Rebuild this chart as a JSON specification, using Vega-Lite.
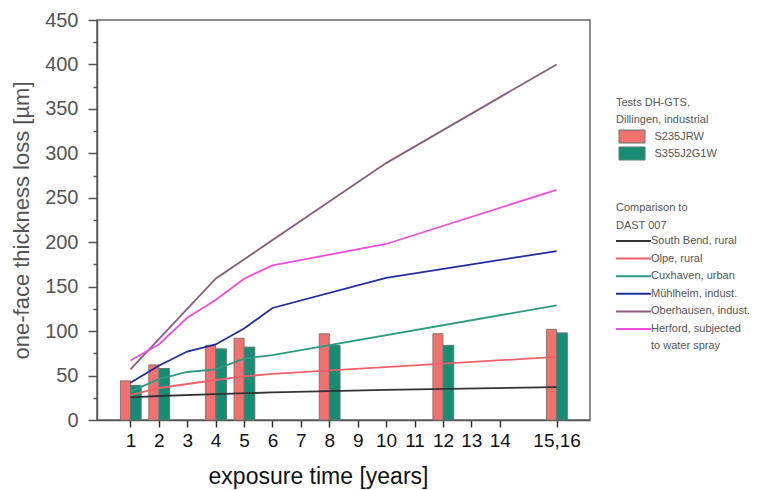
{
  "$schema": "https://vega.github.io/schema/vega-lite/v6.json",
  "width": 493,
  "height": 400,
  "autosize": {"type": "none"},
  "padding": {"left": 97, "top": 20, "right": 171, "bottom": 70},
  "background": "white",
  "config": {
    "font": "Liberation Sans",
    "view": {"stroke": "#666", "strokeWidth": 1.5}
  },
  "datasets": {
    "bars": [
      {"year": 1, "steel": "S235JRW", "loss": 44},
      {"year": 2, "steel": "S235JRW", "loss": 62},
      {"year": 4, "steel": "S235JRW", "loss": 84},
      {"year": 5, "steel": "S235JRW", "loss": 92},
      {"year": 8, "steel": "S235JRW", "loss": 97},
      {"year": 12, "steel": "S235JRW", "loss": 97},
      {"year": 16, "steel": "S235JRW", "loss": 102},
      {"year": 1, "steel": "S355J2G1W", "loss": 39},
      {"year": 2, "steel": "S355J2G1W", "loss": 58},
      {"year": 4, "steel": "S355J2G1W", "loss": 80},
      {"year": 5, "steel": "S355J2G1W", "loss": 82},
      {"year": 8, "steel": "S355J2G1W", "loss": 84},
      {"year": 12, "steel": "S355J2G1W", "loss": 84},
      {"year": 16, "steel": "S355J2G1W", "loss": 98}
    ],
    "lines": [
      {"year": 1, "site": "South Bend, rural", "loss": 25.5},
      {"year": 2, "site": "South Bend, rural", "loss": 27},
      {"year": 4, "site": "South Bend, rural", "loss": 29},
      {"year": 6, "site": "South Bend, rural", "loss": 31},
      {"year": 10, "site": "South Bend, rural", "loss": 34},
      {"year": 16, "site": "South Bend, rural", "loss": 37},
      {"year": 1, "site": "Olpe, rural", "loss": 28},
      {"year": 2, "site": "Olpe, rural", "loss": 36},
      {"year": 4, "site": "Olpe, rural", "loss": 45},
      {"year": 5, "site": "Olpe, rural", "loss": 49},
      {"year": 6, "site": "Olpe, rural", "loss": 52},
      {"year": 16, "site": "Olpe, rural", "loss": 71},
      {"year": 1, "site": "Cuxhaven, urban", "loss": 32},
      {"year": 2, "site": "Cuxhaven, urban", "loss": 46},
      {"year": 3, "site": "Cuxhaven, urban", "loss": 54},
      {"year": 4, "site": "Cuxhaven, urban", "loss": 57},
      {"year": 5, "site": "Cuxhaven, urban", "loss": 69},
      {"year": 6, "site": "Cuxhaven, urban", "loss": 73},
      {"year": 16, "site": "Cuxhaven, urban", "loss": 129},
      {"year": 1, "site": "Mühlheim, indust.", "loss": 42},
      {"year": 2, "site": "Mühlheim, indust.", "loss": 61},
      {"year": 3, "site": "Mühlheim, indust.", "loss": 77},
      {"year": 4, "site": "Mühlheim, indust.", "loss": 85},
      {"year": 5, "site": "Mühlheim, indust.", "loss": 103},
      {"year": 6, "site": "Mühlheim, indust.", "loss": 126},
      {"year": 10, "site": "Mühlheim, indust.", "loss": 160},
      {"year": 16, "site": "Mühlheim, indust.", "loss": 190},
      {"year": 1, "site": "Oberhausen, indust.", "loss": 57},
      {"year": 4, "site": "Oberhausen, indust.", "loss": 159},
      {"year": 10, "site": "Oberhausen, indust.", "loss": 289},
      {"year": 16, "site": "Oberhausen, indust.", "loss": 400},
      {"year": 1, "site": "Herford, subjected to water spray", "loss": 67},
      {"year": 2, "site": "Herford, subjected to water spray", "loss": 85},
      {"year": 3, "site": "Herford, subjected to water spray", "loss": 115},
      {"year": 4, "site": "Herford, subjected to water spray", "loss": 135},
      {"year": 5, "site": "Herford, subjected to water spray", "loss": 159},
      {"year": 6, "site": "Herford, subjected to water spray", "loss": 174},
      {"year": 10, "site": "Herford, subjected to water spray", "loss": 198},
      {"year": 16, "site": "Herford, subjected to water spray", "loss": 259}
    ]
  },
  "encoding": {
    "x": {
      "field": "year",
      "type": "quantitative",
      "scale": {"domain": [0, 17], "nice": false, "zero": false},
      "axis": {
        "values": [1, 2, 3, 4, 5, 6, 7, 8, 9, 10, 11, 12, 13, 14, 16],
        "labelExpr": "datum.value === 16 ? '15,16' : datum.label",
        "grid": false,
        "labelFontSize": 19,
        "labelColor": "#111",
        "labelPadding": 4,
        "tickSize": 7,
        "tickWidth": 1.5,
        "tickColor": "#333",
        "domainColor": "#555",
        "domainWidth": 1.5,
        "title": "exposure time [years]",
        "titleFontSize": 23,
        "titleFontWeight": "normal",
        "titleColor": "#111",
        "titleX": 221,
        "titleY": 56,
        "titleBaseline": "middle"
      }
    },
    "y": {
      "field": "loss",
      "type": "quantitative",
      "scale": {"domain": [0, 450], "nice": false},
      "axis": {
        "values": [0, 25, 50, 75, 100, 125, 150, 175, 200, 225, 250, 275, 300, 325, 350, 375, 400, 425, 450],
        "labelExpr": "datum.value % 50 === 0 ? datum.label : ''",
        "tickSize": {"condition": {"test": "datum.value % 50 === 0", "value": 9}, "value": 4},
        "grid": false,
        "labelFontSize": 20,
        "labelColor": "#555",
        "labelPadding": 10,
        "tickColor": "#555",
        "tickWidth": 1.5,
        "domainColor": "#555",
        "domainWidth": 1.5,
        "title": "one-face thickness loss [µm]",
        "titleFontSize": 22,
        "titleFontWeight": "normal",
        "titleColor": "#555",
        "titleX": -76,
        "titleY": 200,
        "titleBaseline": "middle"
      }
    }
  },
  "layer": [
    {
      "data": {"name": "bars"},
      "transform": [{"filter": "datum.steel === 'S235JRW'"}],
      "mark": {"type": "bar", "width": 10, "xOffset": -5, "stroke": "#8a7272", "strokeWidth": 1},
      "encoding": {
        "fill": {
          "field": "steel",
          "type": "nominal",
          "scale": {"domain": ["S235JRW", "S355J2G1W"], "range": ["#f2716f", "#178c74"]},
          "legend": {
            "orient": "none",
            "legendX": 519,
            "legendY": 77,
            "padding": 0,
            "title": ["Tests DH-GTS,", "Dillingen, industrial"],
            "titleFontSize": 11,
            "titleFontWeight": "normal",
            "titleColor": "#555",
            "titleLineHeight": 16.5,
            "titlePadding": 5,
            "labelFontSize": 11,
            "labelColor": "#555",
            "symbolType": "M-1,-1H3V1H-1Z",
            "symbolSize": 169,
            "symbolStrokeColor": "#777",
            "symbolStrokeWidth": 1,
            "symbolOpacity": 1,
            "symbolOffset": 2.5,
            "labelOffset": 22,
            "rowPadding": -1
          }
        }
      }
    },
    {
      "data": {"name": "bars"},
      "transform": [{"filter": "datum.steel === 'S355J2G1W'"}],
      "mark": {"type": "bar", "width": 10.5, "xOffset": 5.5, "stroke": "#5a7a70", "strokeWidth": 1},
      "encoding": {
        "fill": {"field": "steel", "type": "nominal"}
      }
    },
    {
      "data": {"name": "lines"},
      "mark": {"type": "line", "strokeWidth": 1.8},
      "encoding": {
        "stroke": {
          "field": "site",
          "type": "nominal",
          "scale": {
            "domain": ["South Bend, rural", "Olpe, rural", "Cuxhaven, urban", "Mühlheim, indust.", "Oberhausen, indust.", "Herford, subjected to water spray"],
            "range": ["#333333", "#f0606a", "#2e9a80", "#1f2e9e", "#8b5c7e", "#f050d8"]
          },
          "legend": {
            "orient": "none",
            "legendX": 519,
            "legendY": 182,
            "padding": 0,
            "title": ["Comparison to", "DAST 007"],
            "titleFontSize": 11,
            "titleFontWeight": "normal",
            "titleColor": "#555",
            "titleLineHeight": 18,
            "titlePadding": 4,
            "labelFontSize": 11,
            "labelColor": "#555",
            "labelExpr": "datum.value === 'Herford, subjected to water spray' ? ['Herford, subjected', 'to water spray'] : datum.label",
            "symbolType": "M-1,0H6",
            "symbolSize": 100,
            "symbolStrokeWidth": 2,
            "symbolOffset": -1,
            "labelOffset": 24,
            "rowPadding": 6.6,
            "encode": {
              "labels": {
                "update": {
                  "lineHeight": {"value": 17}
                }
              }
            }
          }
        }
      }
    }
  ]
}
